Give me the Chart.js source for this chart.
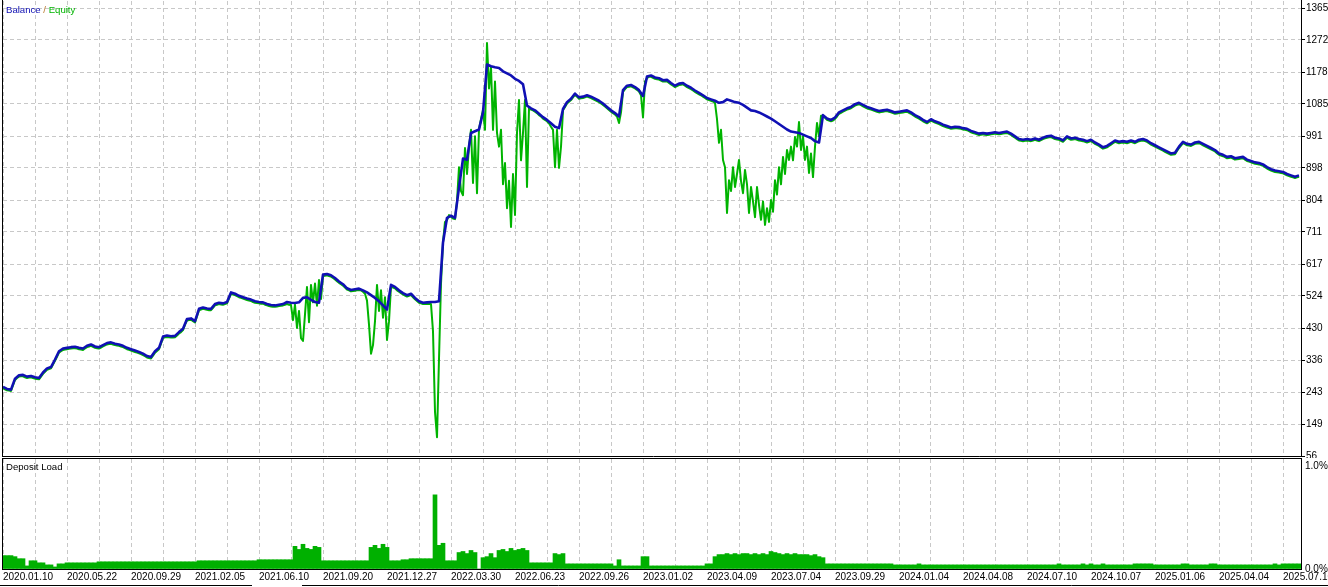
<!DOCTYPE html>
<html>
<head>
<meta charset="utf-8">
<script src="https://cdn.jsdelivr.net/npm/chart.js@4.4.0/dist/chart.umd.min.js"></script>
<style>
html, body { margin: 0; padding: 0; background: #fff; overflow: hidden; }
#wrap { position: relative; width: 1328px; height: 587px; }
canvas { position: absolute; left: 0; }
#main { top: 0; }
#load { top: 458px; }
</style>
</head>
<body>
<div id="wrap">
  <canvas id="main" width="1328" height="458"></canvas>
  <canvas id="load" width="1328" height="129"></canvas>
</div>
<script>
// Balance, one value per sample (sample = one step of the tester x axis)
const balance = [
  258,252,250,282,292,293,288,290,286,284,
  300,312,316,338,362,370,372,374,375,372,
  370,378,382,376,374,380,386,388,384,382,
  378,372,368,364,360,355,348,345,362,372,
  405,408,406,407,418,428,456,458,450,486,
  490,487,486,500,504,502,506,534,530,524,
  520,516,513,508,506,505,500,497,496,498,
  500,506,504,503,505,518,520,512,506,504,
  586,588,584,576,566,558,546,541,543,545,
  540,534,526,518,508,496,484,556,550,540,
  532,526,530,518,508,504,505,506,506,508,
  680,752,758,752,840,925,922,1000,1005,1010,
  1060,1200,1195,1192,1190,1180,1174,1168,1158,1152,
  1142,1080,1072,1066,1056,1046,1038,1028,1018,1014,
  1070,1090,1100,1115,1104,1106,1110,1106,1100,1094,
  1086,1076,1066,1058,1048,1125,1138,1140,1134,1125,
  1108,1165,1168,1162,1160,1154,1155,1146,1138,1144,
  1146,1138,1132,1124,1117,1110,1102,1098,1094,1088,
  1090,1098,1094,1090,1088,1082,1074,1066,1064,1060,
  1054,1048,1042,1034,1026,1018,1010,1004,1002,1000,
  995,990,985,976,972,1052,1042,1038,1045,1060,
  1066,1072,1076,1084,1088,1082,1076,1072,1068,1064,
  1066,1068,1064,1060,1062,1064,1066,1060,1052,1046,
  1038,1032,1040,1034,1030,1024,1020,1016,1018,1017,
  1014,1012,1006,1002,998,1000,998,1000,1002,1000,
  1002,1004,998,990,982,980,982,980,984,980,
  986,990,992,986,984,978,990,984,986,982,
  980,976,980,972,966,958,962,970,978,974,
  976,974,978,974,980,982,978,970,964,958,
  952,946,940,942,960,974,968,966,972,974,
  968,962,956,950,940,936,930,932,926,928,
  930,922,918,914,912,908,900,894,890,888,
  886,880,876,872,876
];

// Equity, two values per balance sample
const equity = [
  254,251,248,247,246,262,278,284,288,289,289,286,284,285,286,284,282,281,280,288,
  296,302,308,310,312,323,334,346,358,362,366,367,368,369,370,371,371,370,368,367,
  366,370,374,376,378,375,372,371,370,373,376,379,382,383,384,382,380,379,378,376,
  374,371,368,366,364,362,360,358,356,354,351,348,344,342,341,349,358,363,368,384,
  401,403,404,403,402,402,403,408,414,418,424,440,452,453,454,450,446,464,482,484,
  486,485,483,482,482,489,496,498,500,499,498,500,502,516,530,528,526,523,520,518,
  516,514,512,510,509,506,504,503,502,501,501,498,496,494,493,492,492,493,494,495,
  496,498,500,498,497,453,498,430,480,400,392,470,550,447,556,505,560,495,570,515,
  582,583,584,582,580,576,572,567,562,558,554,548,542,540,537,538,539,540,541,540,
  536,530,510,440,355,380,450,556,480,540,460,520,395,450,552,548,546,540,536,532,
  528,525,522,524,526,520,514,509,504,502,500,500,501,500,500,420,185,111,340,560,
  680,740,745,760,755,750,748,800,900,830,818,956,880,960,1009,854,990,824,1012,1040,
  1067,1009,1263,1130,1193,1009,1150,1000,960,1009,850,912,780,860,725,880,760,1000,1096,920,
  1000,1096,842,1072,1068,1066,1062,1058,1052,1048,1042,1038,1034,1028,1018,1009,900,1009,898,960,
  1066,1076,1086,1091,1096,1104,1111,1106,1100,1101,1102,1104,1106,1104,1102,1099,1096,1093,1090,1086,
  1082,1077,1072,1067,1062,1058,1054,1048,1029,1060,1120,1128,1134,1135,1136,1133,1130,1126,1121,1110,
  1045,1150,1160,1165,1164,1161,1158,1157,1156,1153,1150,1150,1151,1146,1142,1138,1134,1137,1140,1141,
  1142,1138,1134,1131,1128,1124,1120,1116,1113,1110,1106,1102,1098,1096,1094,1092,1088,1040,971,1009,
  921,900,766,862,830,900,842,880,921,860,824,892,850,766,842,800,754,842,790,746,
  800,731,780,740,804,770,862,820,900,850,930,880,950,921,960,920,988,960,1032,950,
  990,921,960,883,940,871,960,1029,990,1050,1050,1044,1038,1036,1034,1036,1041,1048,1056,1059,
  1062,1065,1068,1070,1072,1076,1080,1082,1084,1081,1078,1075,1072,1070,1068,1066,1064,1062,1060,1061,
  1062,1063,1064,1062,1060,1058,1056,1057,1058,1059,1060,1061,1062,1059,1056,1052,1048,1045,1042,1038,
  1034,1031,1028,1032,1036,1033,1030,1028,1026,1023,1020,1018,1016,1014,1012,1013,1014,1014,1013,1012,
  1010,1009,1008,1005,1002,1000,998,996,994,995,996,995,994,995,996,997,998,997,996,997,
  998,999,1000,997,994,990,986,982,978,977,976,977,978,977,976,978,980,978,976,979,
  982,984,986,987,988,985,982,981,980,977,974,980,986,983,980,981,982,980,978,977,
  976,974,972,974,976,972,968,965,962,958,954,956,958,962,966,970,974,972,970,971,
  972,971,970,972,974,972,970,973,976,977,978,976,974,970,966,963,960,957,954,951,
  948,945,942,939,936,937,938,947,956,963,970,967,964,963,962,965,968,969,970,967,
  964,961,958,955,952,949,946,941,936,934,932,929,926,927,928,925,922,923,924,925,
  926,922,918,916,914,912,910,909,908,906,904,900,896,893,890,888,886,885,884,883,
  882,879,876,874,872,870,868,870,872
];

// Deposit load, percent, one value per balance sample
const depositLoad = [
  0.13,0.13,0.13,0.12,0.10,0.10,0.03,0.08,0.08,0.06,
  0.06,0.04,0.04,0.02,0.05,0.05,0.06,0.06,0.06,0.06,
  0.06,0.06,0.06,0.06,0.07,0.07,0.07,0.07,0.07,0.07,
  0.07,0.07,0.07,0.07,0.07,0.07,0.07,0.07,0.07,0.07,
  0.07,0.07,0.07,0.07,0.07,0.07,0.07,0.07,0.07,0.08,
  0.08,0.08,0.08,0.08,0.08,0.08,0.08,0.08,0.08,0.08,
  0.08,0.08,0.08,0.08,0.09,0.09,0.09,0.09,0.09,0.09,
  0.09,0.09,0.09,0.22,0.19,0.24,0.20,0.19,0.22,0.21,
  0.08,0.08,0.08,0.08,0.08,0.08,0.08,0.08,0.08,0.08,
  0.08,0.08,0.21,0.23,0.20,0.24,0.21,0.08,0.08,0.08,
  0.09,0.09,0.10,0.10,0.10,0.10,0.10,0.10,0.72,0.23,
  0.25,0.08,0.08,0.08,0.16,0.17,0.15,0.18,0.16,0,
  0.11,0.12,0.15,0.11,0.18,0.19,0.17,0.20,0.18,0.19,
  0.20,0.18,0.06,0.06,0.06,0.06,0.06,0.06,0.15,0.14,
  0.15,0.05,0.05,0.05,0.05,0.05,0.05,0.05,0.05,0.05,
  0.05,0.05,0.05,0.03,0.09,0.03,0.03,0.03,0.03,0.03,
  0.12,0.12,0.03,0.03,0.03,0.03,0.03,0.03,0.03,0.03,
  0.03,0.03,0.03,0.03,0.03,0.03,0.05,0.05,0.12,0.14,
  0.14,0.15,0.14,0.15,0.14,0.15,0.15,0.14,0.15,0.14,
  0.15,0.14,0.17,0.16,0.15,0.14,0.15,0.14,0.15,0.14,
  0.14,0.14,0.13,0.14,0.12,0.11,0.05,0.05,0.05,0.05,
  0.05,0.05,0.05,0.05,0.05,0.05,0.05,0.05,0.05,0.05,
  0.05,0.05,0.05,0.04,0.04,0.04,0.04,0.04,0.04,0.05,
  0.04,0.04,0.04,0.04,0.04,0.04,0.04,0.04,0.04,0.04,
  0.04,0.04,0.04,0.04,0.04,0.04,0.04,0.04,0.04,0.04,
  0.04,0.04,0.04,0.04,0.04,0.04,0.04,0.04,0.04,0.04,
  0.04,0.04,0.04,0.04,0.05,0.04,0.04,0.04,0.04,0.04,
  0.05,0.04,0.05,0.04,0.04,0.05,0.04,0.04,0.04,0.04,
  0.04,0.04,0.04,0.05,0.05,0.05,0.05,0.05,0.04,0.04,
  0.04,0.04,0.04,0.04,0.04,0.05,0.05,0.04,0.04,0.04,
  0.04,0.04,0.05,0.05,0.04,0.04,0.04,0.04,0.04,0.04,
  0.04,0.04,0.04,0.04,0.04,0.04,0.04,0.04,0.05,0.04,
  0.05,0.05,0.05,0.05,0.05
];

const dateLabels = [
  '2020.01.10','2020.05.22','2020.09.29','2021.02.05','2021.06.10','2021.09.20',
  '2021.12.27','2022.03.30','2022.06.23','2022.09.26','2023.01.02','2023.04.09',
  '2023.07.04','2023.09.29','2024.01.04','2024.04.08','2024.07.10','2024.10.07',
  '2025.01.06','2025.04.04','2025.07.10'
];
const valueTicks = [56,149,243,336,430,524,617,711,804,898,991,1085,1178,1272,1365];
const loadTicks = [0, 1];
const loadTickLabels = ['0.0%', '1.0%'];

const GRID_STEP = 8;    // samples between vertical grid lines
const LABEL_STEP = 16;  // samples between date labels
const EQ_PER_SAMPLE = 2;
const idx = balance.map((_, i) => i);
const xMax = balance.length - 0.5;

Chart.defaults.font.family = '"Liberation Sans", Arial, sans-serif';
Chart.defaults.font.size = 10;
Chart.defaults.color = '#000';

const BLUE = '#1010b4';
const GREEN = '#00b400';
const GRID = '#c8c8c8';

function gridTicks() {
  const t = [];
  for (let v = 0; v <= balance.length - 1; v += GRID_STEP) t.push({ value: v });
  return t;
}

// frame + caption for the upper panel
const mainFrame = {
  id: 'mainFrame',
  afterDraw(chart) {
    const { ctx, chartArea: a } = chart;
    ctx.save();
    ctx.strokeStyle = '#000';
    ctx.lineWidth = 1;
    ctx.beginPath();
    ctx.moveTo(2.5, 0); ctx.lineTo(2.5, a.bottom + 1);
    ctx.moveTo(a.right + 0.5, 0); ctx.lineTo(a.right + 0.5, a.bottom + 1);
    ctx.moveTo(2, a.bottom + 0.5); ctx.lineTo(a.right + 4, a.bottom + 0.5);
    ctx.stroke();
    ctx.font = '9.6px ' + Chart.defaults.font.family;
    ctx.textBaseline = 'alphabetic';
    let x = 6;
    [['Balance', BLUE], [' / ', '#b8782c'], ['Equity', GREEN]].forEach(([txt, col]) => {
      ctx.fillStyle = col;
      ctx.fillText(txt, x, 13);
      x += ctx.measureText(txt).width;
    });
    ctx.restore();
  }
};

const loadFrame = {
  id: 'loadFrame',
  afterDraw(chart) {
    const { ctx, chartArea: a } = chart;
    ctx.save();
    ctx.strokeStyle = '#000';
    ctx.lineWidth = 1;
    ctx.beginPath();
    ctx.moveTo(2, 0.5); ctx.lineTo(a.right + 1, 0.5);
    ctx.moveTo(2.5, 0); ctx.lineTo(2.5, a.bottom + 1);
    ctx.moveTo(a.right + 0.5, 0); ctx.lineTo(a.right + 0.5, a.bottom + 1);
    ctx.moveTo(2, a.bottom + 0.5); ctx.lineTo(a.right + 1, a.bottom + 0.5);
    ctx.moveTo(0, 127.5); ctx.lineTo(252, 127.5);
    ctx.moveTo(302, 127.5); ctx.lineTo(1328, 127.5);
    ctx.stroke();
    ctx.font = '9.6px ' + Chart.defaults.font.family;
    ctx.fillStyle = '#000';
    ctx.fillText('Deposit Load', 6, 12);
    ctx.restore();
  }
};

new Chart(document.getElementById('main'), {
  type: 'line',
  data: {
    datasets: [
      { label: 'Balance', data: balance.map((v, i) => ({ x: i, y: v })),
        borderColor: BLUE, borderWidth: 2.6, pointRadius: 0, tension: 0, borderJoinStyle: 'round' },
      { label: 'Equity', data: equity.map((v, j) => ({ x: j / EQ_PER_SAMPLE, y: v })),
        borderColor: GREEN, borderWidth: 2, pointRadius: 0, tension: 0, borderJoinStyle: 'round' }
    ]
  },
  options: {
    responsive: false,
    animation: false,
    devicePixelRatio: 1,
    layout: { padding: { left: 3, top: 1, right: 0, bottom: 2 } },
    plugins: { legend: { display: false }, tooltip: { enabled: false } },
    scales: {
      x: {
        type: 'linear', min: 0, max: xMax,
        afterBuildTicks: s => { s.ticks = gridTicks(); },
        afterFit: s => { s.height = 0; s.paddingLeft = 0; s.paddingRight = 0; },
        ticks: { display: false },
        grid: { color: GRID, drawTicks: false },
        border: { display: false, dash: [4, 3] }
      },
      y: {
        position: 'right', min: 56, max: 1385.5,
        afterBuildTicks: s => { s.ticks = valueTicks.map(v => ({ value: v })); },
        afterFit: s => { s.width = 27; s.paddingTop = 0; s.paddingBottom = 0; },
        ticks: { padding: 1, callback: v => String(v) },
        grid: { color: GRID, tickColor: '#000', tickLength: 4, tickBorderDash: [] },
        border: { display: false, dash: [4, 3] }
      }
    }
  },
  plugins: [mainFrame]
});

new Chart(document.getElementById('load'), {
  type: 'bar',
  data: {
    labels: idx,
    datasets: [
      { label: 'Deposit Load', data: depositLoad, backgroundColor: '#00b000',
        borderWidth: 0, barPercentage: 1, categoryPercentage: 1 }
    ]
  },
  options: {
    responsive: false,
    animation: false,
    devicePixelRatio: 1,
    layout: { padding: { left: 3, top: 1, right: 0, bottom: 0 } },
    plugins: { legend: { display: false }, tooltip: { enabled: false } },
    scales: {
      x: {
        type: 'linear', min: 0, max: xMax, offset: false,
        afterBuildTicks: s => { s.ticks = gridTicks(); },
        afterFit: s => { s.height = 18; s.paddingLeft = 0; s.paddingRight = 0; },
        ticks: {
          autoSkip: false, maxRotation: 0, minRotation: 0, align: 'start', padding: 2,
          callback: v => (v % LABEL_STEP === 0 ? dateLabels[v / LABEL_STEP] : '')
        },
        grid: { color: GRID, drawTicks: false, offset: false },
        border: { display: false, dash: [4, 3] }
      },
      y: {
        position: 'right', min: 0, max: 1.068,
        afterBuildTicks: s => { s.ticks = loadTicks.map(v => ({ value: v })); },
        afterFit: s => { s.width = 27; s.paddingTop = 0; s.paddingBottom = 0; },
        ticks: { padding: 4, callback: v => loadTickLabels[loadTicks.indexOf(v)] },
        grid: { drawOnChartArea: false, drawTicks: false },
        border: { display: false }
      }
    }
  },
  plugins: [loadFrame]
});
</script>
</body>
</html>
